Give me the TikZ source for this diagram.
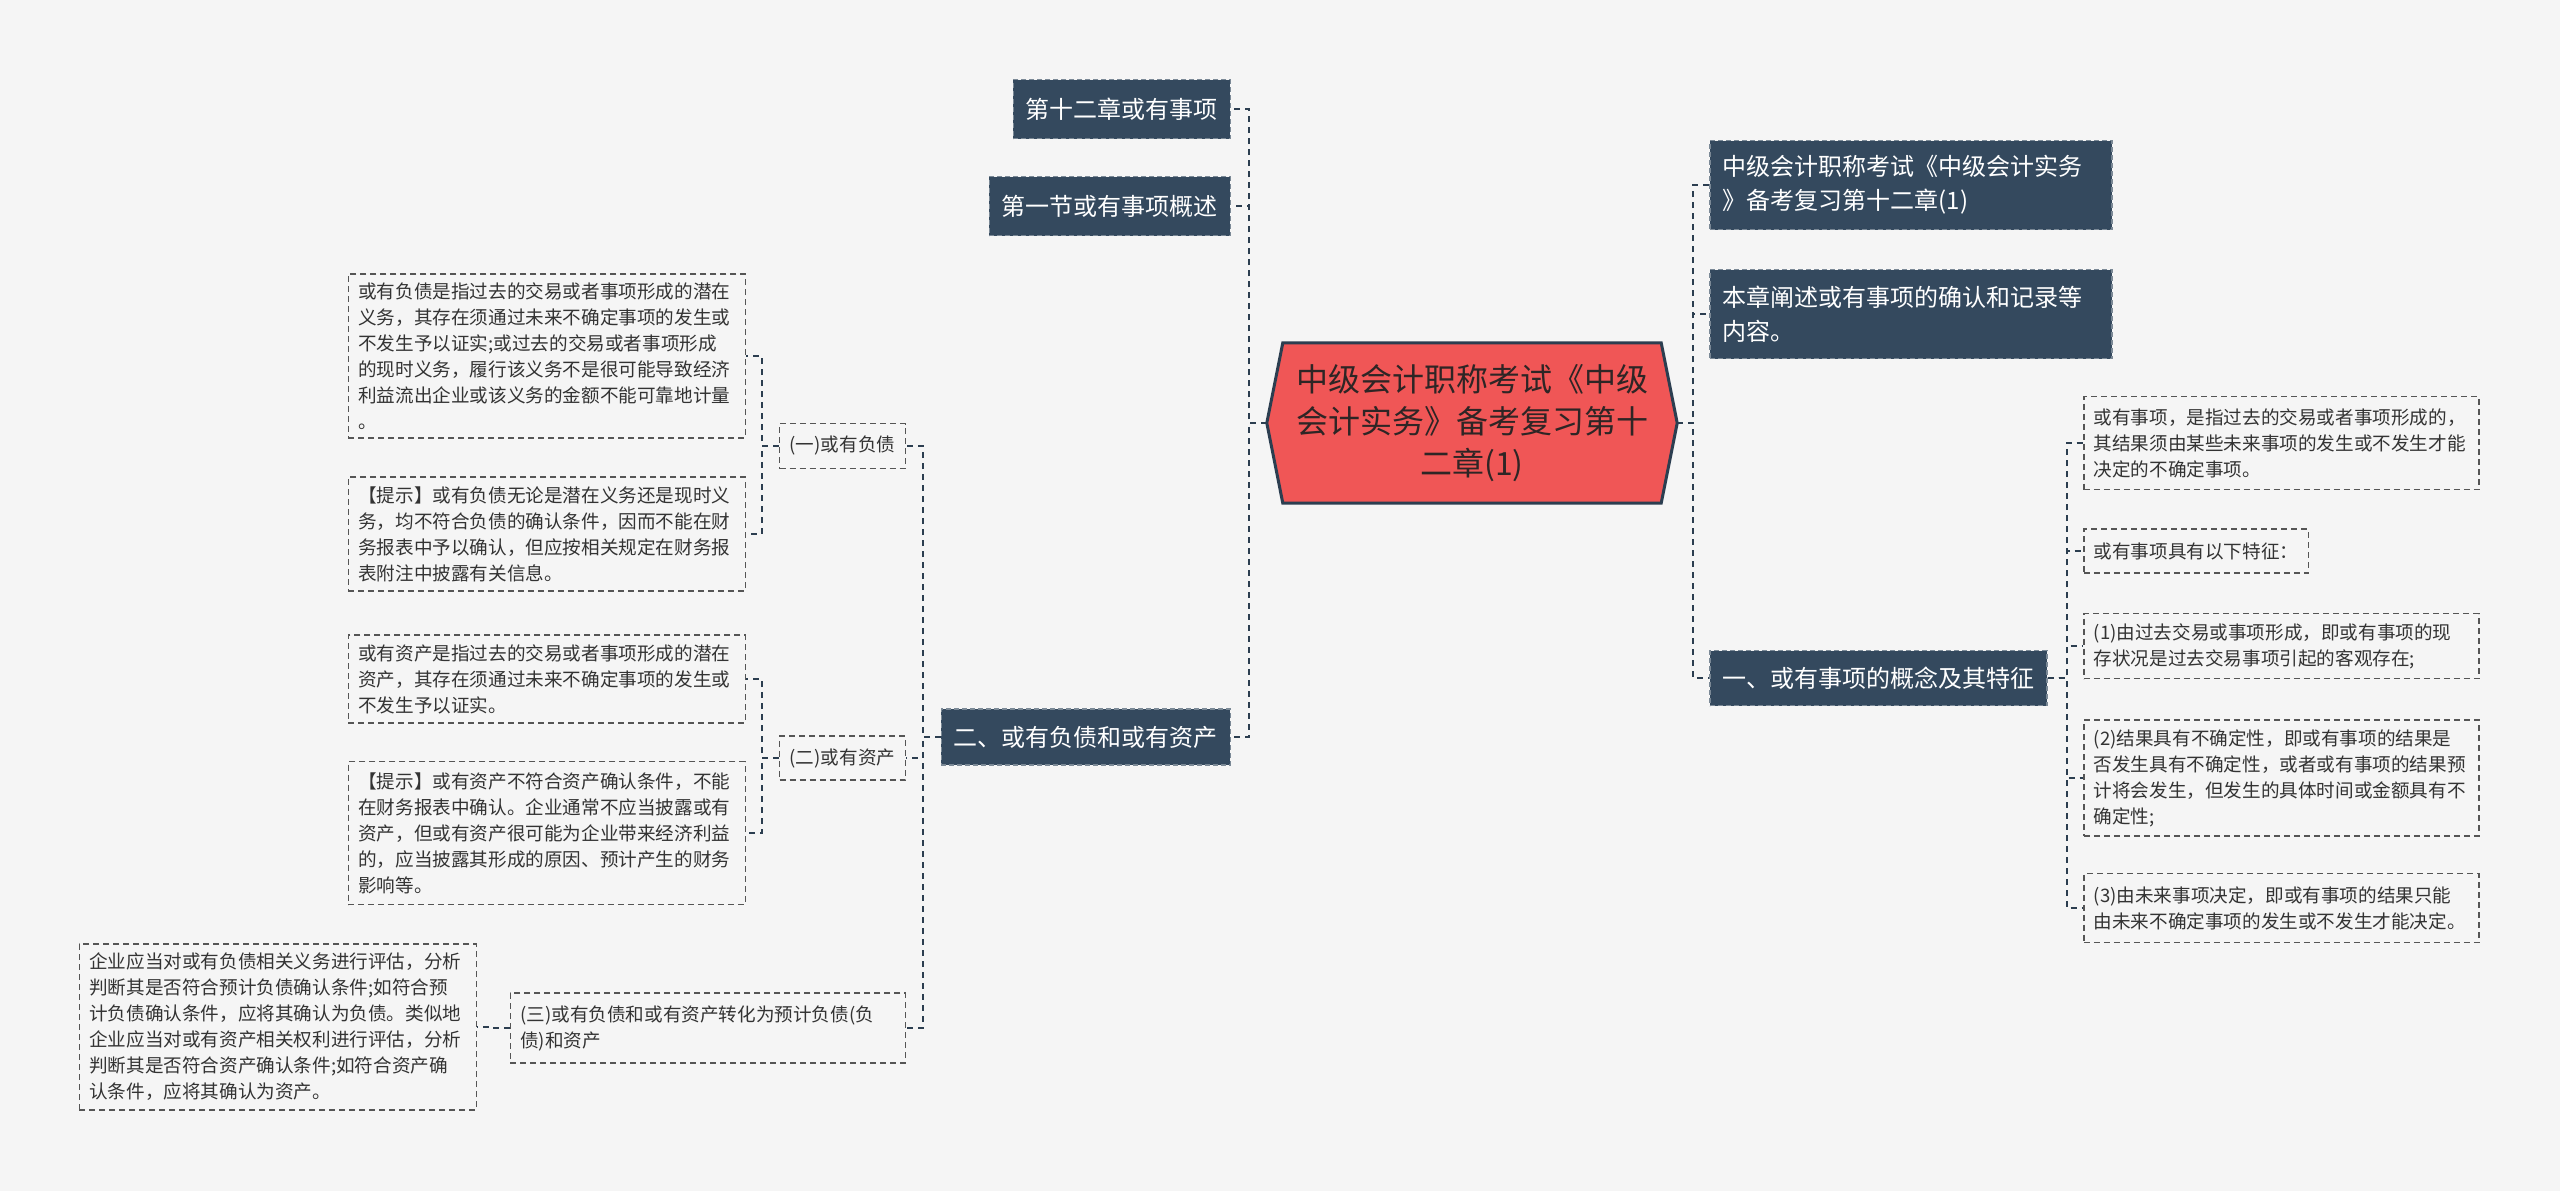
\documentclass[tikz,border=0pt]{standalone}
\usepackage{fontspec}
\setmainfont{Noto Sans CJK SC}
\usetikzlibrary{backgrounds}
\definecolor{bgc}{HTML}{F5F5F5}
\definecolor{darkc}{HTML}{34495E}
\definecolor{rootc}{HTML}{F05656}
\definecolor{linec}{HTML}{2C3E50}
\definecolor{boxline}{HTML}{555555}
\definecolor{txt}{HTML}{333333}
\definecolor{roottxt}{HTML}{2E2525}
\tikzset{
  conn/.style={draw=linec, line width=2pt, dash pattern=on 6pt off 5pt},
  darkbox/.style={fill=darkc, draw=darkc!65!white, line width=1.5pt, dash pattern=on 5pt off 3pt,
    text=white, font=\fontsize{24}{34}\selectfont, inner xsep=12.5pt, inner ysep=0pt, align=left},
  lightbox/.style={draw=boxline, line width=1.5pt, dash pattern=on 6pt off 4pt,
    text=txt, font=\fontsize{18.6}{26}\selectfont, inner xsep=10pt, inner ysep=0pt, align=left},
  rootbox/.style={text=roottxt, font=\fontsize{32}{42}\selectfont, align=center,
    minimum width=410pt, minimum height=160pt, text width=372pt, inner sep=0pt},
  rootshape/.style={fill=rootc, draw=linec, line width=3pt},
}
\begin{document}
\begin{tikzpicture}[x=1pt, y=-1pt]
\useasboundingbox (0,0) rectangle (2560,1191);

% root
\node[rootbox] (root) at (1472,423) {中级会计职称考试《中级\\会计实务》备考复习第十\\二章(1)};

% left main branch
\node[darkbox, anchor=east, minimum height=59pt] (N12) at (1231,109) {第十二章或有事项};
\node[darkbox, anchor=east, minimum height=59pt] (N1s) at (1231,206) {第一节或有事项概述};
\node[darkbox, anchor=east, minimum height=56pt] (N2) at (1231,737) {二、或有负债和或有资产};

\node[lightbox, anchor=east, minimum height=45pt] (A1) at (906,446) {(一)或有负债};
\node[lightbox, anchor=east, minimum height=44pt] (A2) at (906,758) {(二)或有资产};
\node[lightbox, anchor=east, minimum height=70pt, text width=375pt] (A3) at (906,1028)
  {(三)或有负债和或有资产转化为预计负债(负\\债)和资产};

\node[lightbox, anchor=east, minimum height=164pt, text width=377pt] (T1) at (746,356)
  {或有负债是指过去的交易或者事项形成的潜在\\义务，其存在须通过未来不确定事项的发生或\\不发生予以证实;或过去的交易或者事项形成\\的现时义务，履行该义务不是很可能导致经济\\利益流出企业或该义务的金额不能可靠地计量\\。};
\node[lightbox, anchor=east, minimum height=114pt, text width=377pt] (T2) at (746,534)
  {【提示】或有负债无论是潜在义务还是现时义\\务，均不符合负债的确认条件，因而不能在财\\务报表中予以确认，但应按相关规定在财务报\\表附注中披露有关信息。};
\node[lightbox, anchor=east, minimum height=88pt, text width=377pt] (T3) at (746,679)
  {或有资产是指过去的交易或者事项形成的潜在\\资产，其存在须通过未来不确定事项的发生或\\不发生予以证实。};
\node[lightbox, anchor=east, minimum height=143pt, text width=377pt] (T4) at (746,833)
  {【提示】或有资产不符合资产确认条件，不能\\在财务报表中确认。企业通常不应当披露或有\\资产，但或有资产很可能为企业带来经济利益\\的，应当披露其形成的原因、预计产生的财务\\影响等。};
\node[lightbox, anchor=east, minimum height=166pt, text width=377pt] (T5) at (477,1027)
  {企业应当对或有负债相关义务进行评估，分析\\判断其是否符合预计负债确认条件;如符合预\\计负债确认条件，应将其确认为负债。类似地\\企业应当对或有资产相关权利进行评估，分析\\判断其是否符合资产确认条件;如符合资产确\\认条件，应将其确认为资产。};

% right main branch
\node[darkbox, anchor=west, minimum height=89pt, text width=376pt, inner xsep=13pt] (R1) at (1709,185)
  {中级会计职称考试《中级会计实务\\》备考复习第十二章(1)};
\node[darkbox, anchor=west, minimum height=89pt, text width=376pt, inner xsep=13pt] (R2) at (1709,314)
  {本章阐述或有事项的确认和记录等\\内容。};
\node[darkbox, anchor=west, minimum height=55pt] (R3) at (1709,678) {一、或有事项的概念及其特征};

\node[lightbox, anchor=west, minimum height=93pt, text width=375pt] (S1) at (2083,443)
  {或有事项，是指过去的交易或者事项形成的，\\其结果须由某些未来事项的发生或不发生才能\\决定的不确定事项。};
\node[lightbox, anchor=west, minimum height=44pt] (S2) at (2083,551) {或有事项具有以下特征：};
\node[lightbox, anchor=west, minimum height=65pt, text width=375pt] (S3) at (2083,646)
  {(1)由过去交易或事项形成，即或有事项的现\\存状况是过去交易事项引起的客观存在;};
\node[lightbox, anchor=west, minimum height=116pt, text width=375pt] (S4) at (2083,778)
  {(2)结果具有不确定性，即或有事项的结果是\\否发生具有不确定性，或者或有事项的结果预\\计将会发生，但发生的具体时间或金额具有不\\确定性;};
\node[lightbox, anchor=west, minimum height=69pt, text width=375pt] (S5) at (2083,908)
  {(3)由未来事项决定，即或有事项的结果只能\\由未来不确定事项的发生或不发生才能决定。};

% connectors
\draw[conn] (root.west) -- ++(-18,0) |- (N12.east);
\draw[conn] (root.west) -- ++(-18,0) |- (N1s.east);
\draw[conn] (root.west) -- ++(-18,0) |- (N2.east);
\draw[conn] (root.east) -- ++(16,0) |- (R1.west);
\draw[conn] (root.east) -- ++(16,0) |- (R2.west);
\draw[conn] (root.east) -- ++(16,0) |- (R3.west);
\draw[conn] (N2.west) -- ++(-18,0) |- (A1.east);
\draw[conn] (N2.west) -- ++(-18,0) |- (A2.east);
\draw[conn] (N2.west) -- ++(-18,0) |- (A3.east);
\draw[conn] (A1.west) -- ++(-17,0) |- (T1.east);
\draw[conn] (A1.west) -- ++(-17,0) |- (T2.east);
\draw[conn] (A2.west) -- ++(-17,0) |- (T3.east);
\draw[conn] (A2.west) -- ++(-17,0) |- (T4.east);
\draw[conn] (A3.west) -- ++(-17,0) |- (T5.east);
\draw[conn] (R3.east) -- ++(19,0) |- (S1.west);
\draw[conn] (R3.east) -- ++(19,0) |- (S2.west);
\draw[conn] (R3.east) -- ++(19,0) |- (S3.west);
\draw[conn] (R3.east) -- ++(19,0) |- (S4.west);
\draw[conn] (R3.east) -- ++(19,0) |- (S5.west);

\begin{scope}[on background layer]
  \fill[bgc] (0,0) rectangle (2560,1191);
  \draw[rootshape] (root.west) -- ([xshift=16pt]root.north west) -- ([xshift=-16pt]root.north east)
    -- (root.east) -- ([xshift=-16pt]root.south east) -- ([xshift=16pt]root.south west) -- cycle;
\end{scope}
\end{tikzpicture}
\end{document}
